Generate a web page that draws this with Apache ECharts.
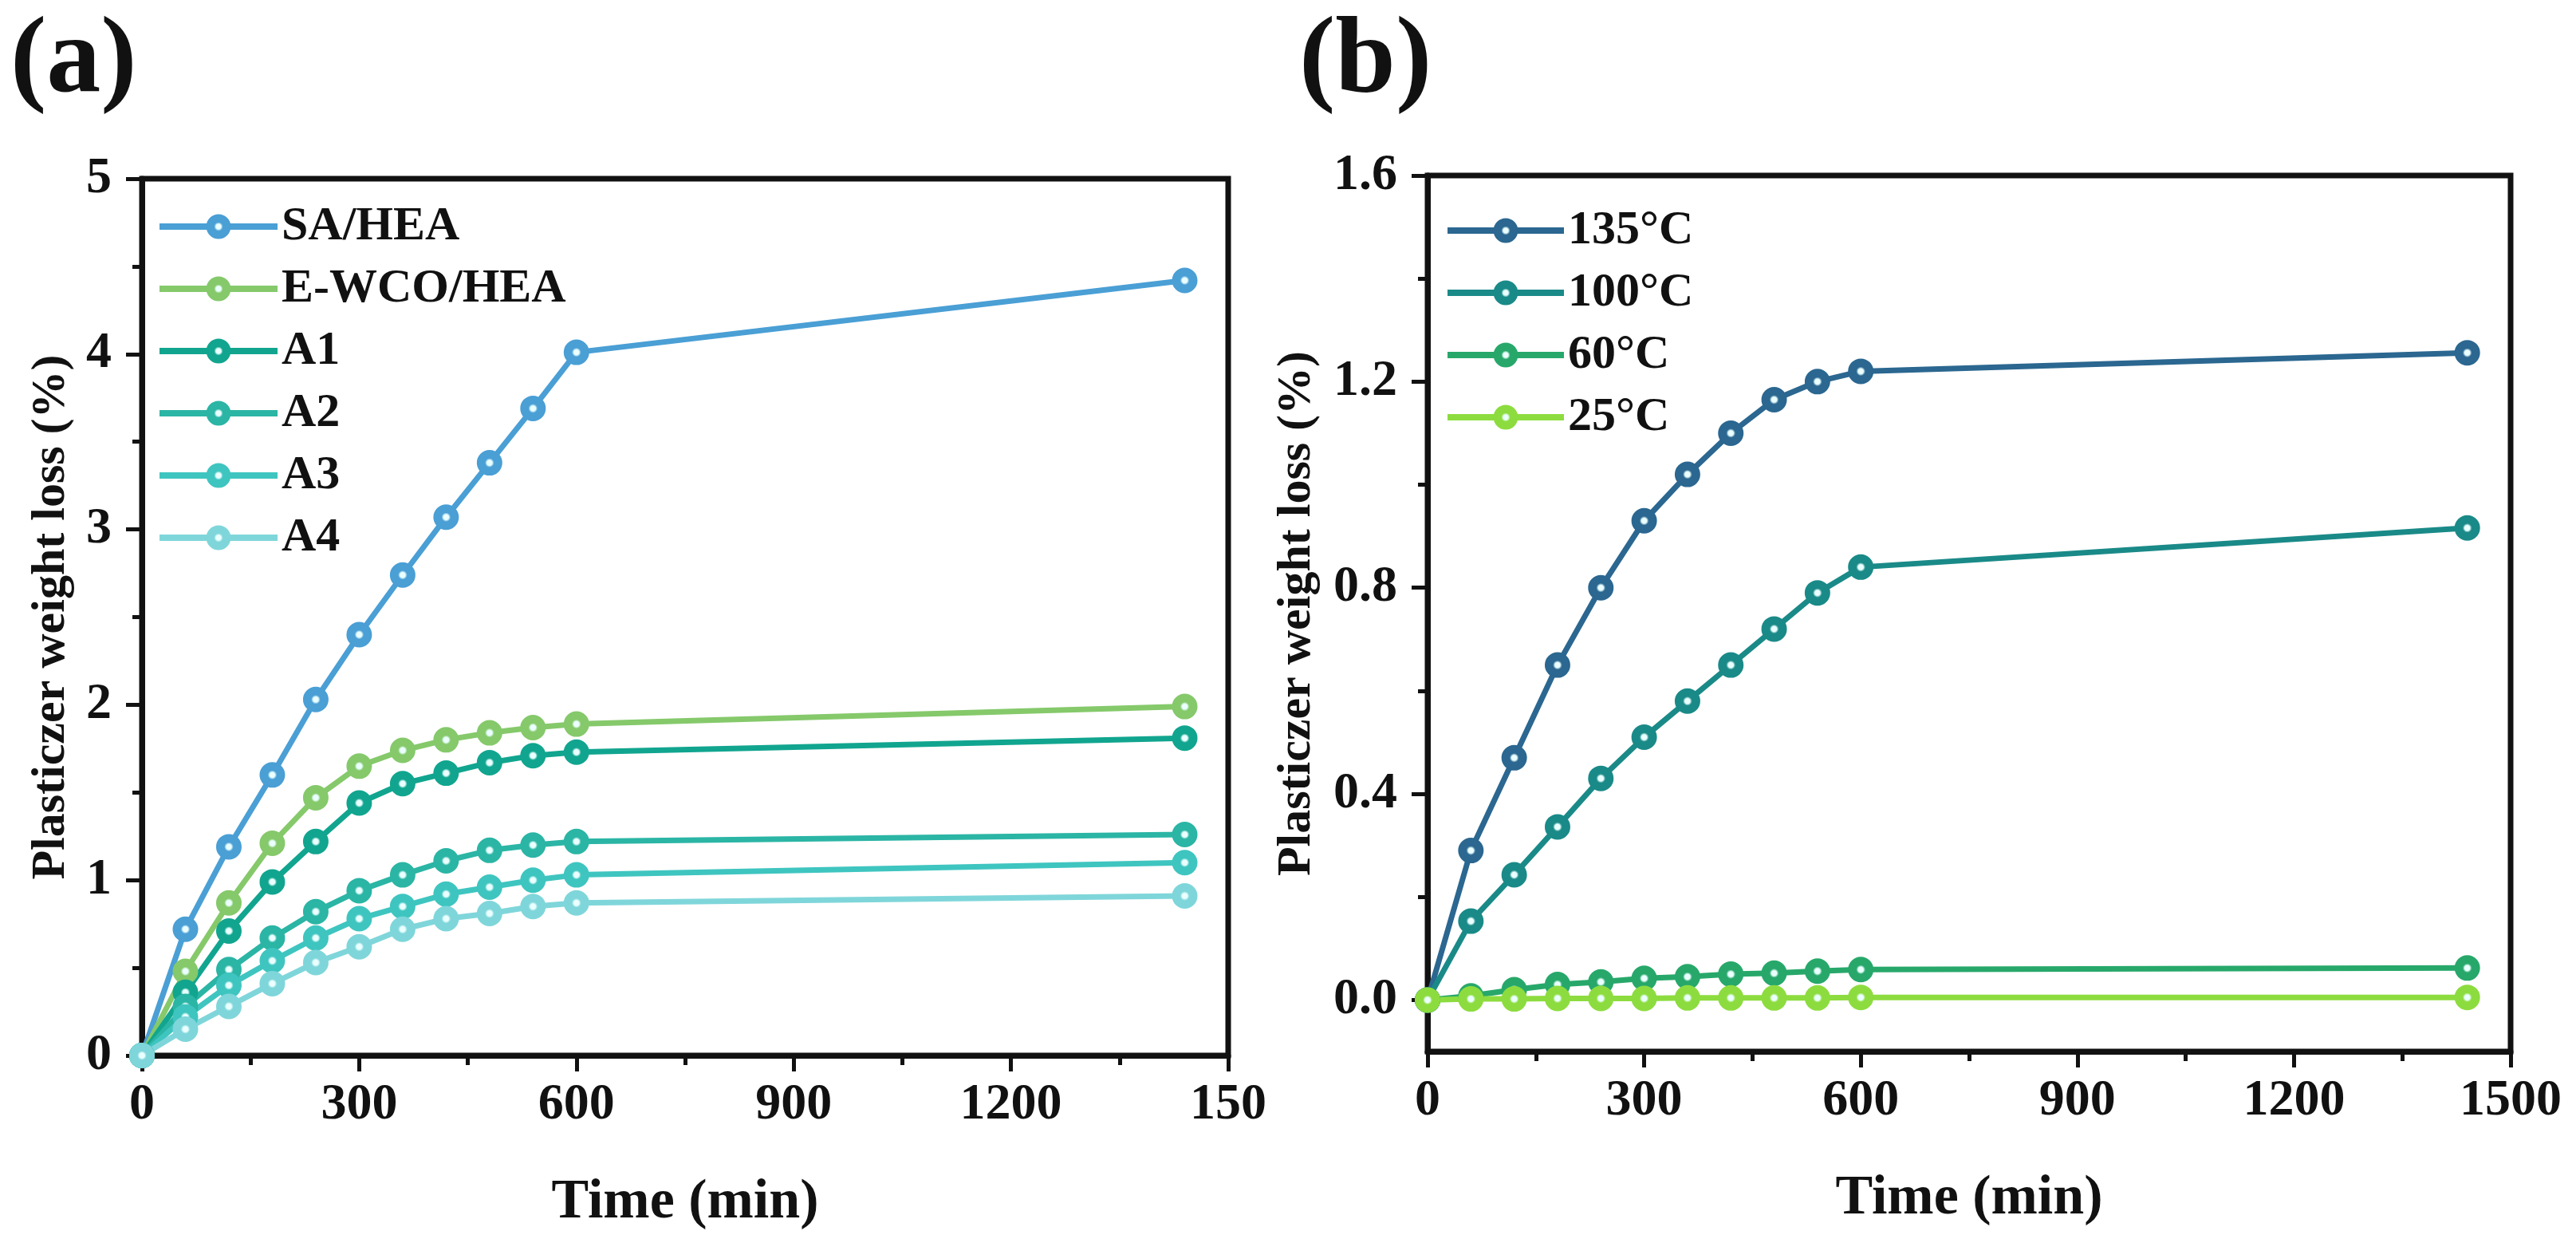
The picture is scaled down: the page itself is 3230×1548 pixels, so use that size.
<!DOCTYPE html>
<html>
<head>
<meta charset="utf-8">
<script src="https://cdn.jsdelivr.net/npm/echarts@6.0.0/dist/echarts.min.js"></script>
<style>
  html, body { margin: 0; padding: 0; background: #fff; }
  #chart { width: 3230px; height: 1548px; }
</style>
</head>
<body>
<div id="chart"></div>
<script>
const times = [0, 60, 120, 180, 240, 300, 360, 420, 480, 540, 600, 1440]

// panel (a)
const namesA = ['SA/HEA', 'E-WCO/HEA', 'A1', 'A2', 'A3', 'A4']
const saHea = [0, 0.72, 1.19, 1.60, 2.03, 2.40, 2.74, 3.07, 3.38, 3.69, 4.01, 4.42]
const ewcoHea = [0, 0.48, 0.87, 1.21, 1.47, 1.65, 1.74, 1.80, 1.84, 1.87, 1.89, 1.99]
const a1 = [0, 0.36, 0.71, 0.99, 1.22, 1.44, 1.55, 1.61, 1.67, 1.71, 1.73, 1.81]
const a2 = [0, 0.28, 0.49, 0.67, 0.82, 0.94, 1.03, 1.11, 1.17, 1.20, 1.22, 1.26]
const a3 = [0, 0.22, 0.40, 0.54, 0.67, 0.78, 0.85, 0.92, 0.96, 1.00, 1.03, 1.10]
const a4 = [0, 0.15, 0.28, 0.41, 0.53, 0.62, 0.72, 0.78, 0.81, 0.85, 0.87, 0.91]
const colorsA = ['#4a9fd5', '#85c96b', '#11a58f', '#2bb5a5', '#3fc5c0', '#7fd6da']

// panel (b)
const namesB = ['135°C', '100°C', '60°C', '25°C']
const t135 = [0, 0.29, 0.47, 0.65, 0.80, 0.93, 1.02, 1.10, 1.165, 1.20, 1.22, 1.256]
const t100 = [0, 0.153, 0.243, 0.336, 0.43, 0.51, 0.58, 0.65, 0.72, 0.79, 0.84, 0.916]
const t60 = [0, 0.008, 0.02, 0.03, 0.035, 0.042, 0.045, 0.05, 0.052, 0.056, 0.059, 0.062]
const t25 = [0, 0.002, 0.002, 0.003, 0.003, 0.003, 0.004, 0.004, 0.004, 0.004, 0.005, 0.005]
const colorsB = ['#2b6790', '#1a8a88', '#27a86a', '#8ddc3f']

const yTicksB = [0, 0.4, 0.8, 1.2, 1.6]
const yMinorB = [0.2, 0.6, 1.0, 1.4]

const font = 'Liberation Serif'
const ink = '#111'

function marker(c) {
  return {
    type: 'radial', x: 0.5, y: 0.5, r: 0.5,
    colorStops: [
      { offset: 0, color: '#eaffff' },
      { offset: 0.2, color: '#eaffff' },
      { offset: 0.36, color: c },
      { offset: 1, color: c },
    ],
  }
}

function makeSeries(name, values, color, idx) {
  return {
    name,
    type: 'line',
    xAxisIndex: idx,
    yAxisIndex: idx,
    data: times.map((t, i) => [t, values[i]]),
    symbol: 'circle',
    symbolSize: 30,
    showSymbol: true,
    lineStyle: { color, width: 7 },
    itemStyle: { color: marker(color), borderColor: color, borderWidth: 2 },
    emphasis: { disabled: true },
    animation: false,
  }
}

const axisLine = { show: true, onZero: false, lineStyle: { color: ink, width: 7 } }
const tick = { show: true, length: 20, lineStyle: { color: ink, width: 5 } }
const minor = { show: true, splitNumber: 2, length: 12, lineStyle: { color: ink, width: 5 } }
const labelStyle = { fontFamily: font, fontWeight: 'bold', fontSize: 64, color: ink }
const nameStyle = { fontFamily: font, fontWeight: 'bold', fontSize: 70, color: ink }
const yNameStyle = { fontFamily: font, fontWeight: 'bold', fontSize: 60, color: ink }
const legendText = { fontFamily: font, fontWeight: 'bold', fontSize: 60, color: ink, lineHeight: 60 }

const xBase = (gridIndex, fmt) => ({
  type: 'value', gridIndex, min: 0, max: 1500, interval: 300,
  axisLine, axisTick: tick, minorTick: minor,
  splitLine: { show: false },
  axisLabel: Object.assign({ margin: 30, formatter: fmt }, labelStyle),
  name: 'Time (min)', nameLocation: 'middle', nameGap: 150, nameTextStyle: nameStyle,
})

const chart = echarts.init(document.getElementById('chart'), null, { renderer: 'canvas' })

chart.setOption({
  backgroundColor: '#fff',
  animation: false,
  title: [
    { text: '(a)', left: 8, top: 6, textStyle: { fontFamily: font, fontWeight: 'bold', fontSize: 136, color: ink } },
    { text: '(b)', left: 1624, top: 6, textStyle: { fontFamily: font, fontWeight: 'bold', fontSize: 136, color: ink } },
  ],
  grid: [
    { left: 178, right: 1690, top: 224, bottom: 223, show: true, borderColor: ink, borderWidth: 7 },
    { left: 1790, right: 82, top: 220, bottom: 230, show: true, borderColor: ink, borderWidth: 7 },
  ],
  legend: [
    {
      data: namesA, orient: 'vertical', left: 191, top: 249,
      itemWidth: 148, itemHeight: 36, itemGap: 18,
      lineStyle: { width: 8 },
      textStyle: legendText,
    },
    {
      data: namesB, orient: 'vertical', left: 1806, top: 254,
      itemWidth: 146, itemHeight: 36, itemGap: 18,
      lineStyle: { width: 8 },
      textStyle: legendText,
    },
  ],
  xAxis: [
    xBase(0, v => (v === 1500 ? '150' : String(v))),
    xBase(1, v => String(v)),
  ],
  yAxis: [
    {
      type: 'value', gridIndex: 0, min: 0, max: 5, interval: 1,
      axisLine, axisTick: tick, minorTick: minor,
      splitLine: { show: false },
      axisLabel: Object.assign({ margin: 38 }, labelStyle),
      name: 'Plasticzer weight loss (%)', nameLocation: 'middle', nameGap: 84, nameTextStyle: yNameStyle,
    },
    {
      type: 'value', gridIndex: 1, min: -0.1, max: 1.6,
      axisLine,
      axisTick: Object.assign({ customValues: yTicksB }, tick),
      splitLine: { show: false },
      axisLabel: Object.assign({ margin: 38, customValues: yTicksB, formatter: v => v.toFixed(1) }, labelStyle),
      name: 'Plasticzer weight loss (%)', nameLocation: 'middle', nameGap: 134, nameTextStyle: yNameStyle,
    },
    {
      type: 'value', gridIndex: 1, min: -0.1, max: 1.6, position: 'left',
      axisLine: { show: false },
      axisTick: { show: true, length: 12, customValues: yMinorB, lineStyle: { color: ink, width: 5 } },
      axisLabel: { show: false },
      splitLine: { show: false },
    },
  ],
  series: [
    makeSeries(namesA[0], saHea, colorsA[0], 0),
    makeSeries(namesA[1], ewcoHea, colorsA[1], 0),
    makeSeries(namesA[2], a1, colorsA[2], 0),
    makeSeries(namesA[3], a2, colorsA[3], 0),
    makeSeries(namesA[4], a3, colorsA[4], 0),
    makeSeries(namesA[5], a4, colorsA[5], 0),
    makeSeries(namesB[0], t135, colorsB[0], 1),
    makeSeries(namesB[1], t100, colorsB[1], 1),
    makeSeries(namesB[2], t60, colorsB[2], 1),
    makeSeries(namesB[3], t25, colorsB[3], 1),
  ],
})
</script>
</body>
</html>
